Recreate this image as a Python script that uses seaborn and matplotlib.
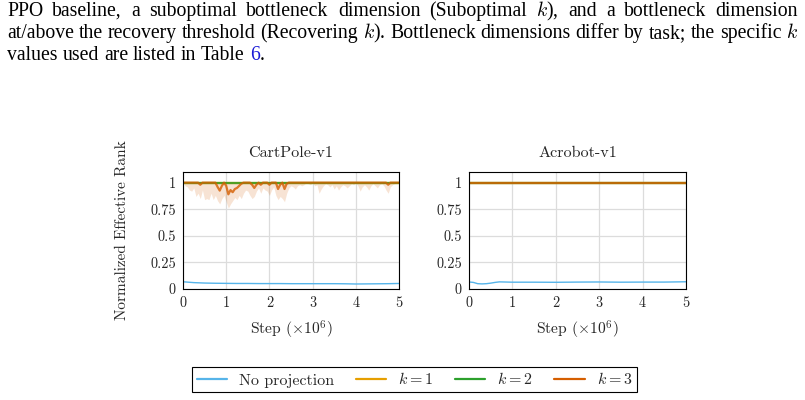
import numpy as np
import pandas as pd
import matplotlib
matplotlib.use('Agg')
import matplotlib.pyplot as plt
from matplotlib.lines import Line2D
import seaborn as sns

# ---- data ----
# CartPole, k = 3 (fine grid, 0.05 steps in units of 1e6)
cp_fine_steps = np.linspace(0, 5, 101)
cp_k3_mean = [
    1, 1, 1, 1, 1, 1, 1, 1, 0.98, 1,
    1, 1, 1, 1, 1, 1, 0.96, 0.925, 0.97, 1,
    0.97, 0.89, 0.93, 0.91, 0.94, 0.95, 0.97, 0.99, 1, 1,
    1, 1, 0.98, 0.95, 0.98, 1, 0.98, 1, 1, 1,
    0.98, 1, 1, 1, 0.94, 0.98, 1, 0.94, 0.99, 1,
    1, 1, 1, 1, 1, 1, 1, 1, 1, 1,
    1, 1, 1, 1, 1, 1, 1, 1, 1, 1,
    1, 1, 1, 1, 1, 1, 1, 1, 1, 1,
    1, 1, 1, 1, 1, 1, 1, 1, 1, 1,
    1, 1, 1, 1, 1, 0.98, 1, 1, 1, 1,
    1,
]
cp_k3_low = [
    1.0, 0.97, 0.96, 0.93, 0.92, 0.95, 0.87, 0.90, 0.85, 0.93,
    0.84, 0.85, 0.84, 0.90, 0.84, 0.88, 0.83, 0.80, 0.85, 0.88,
    0.82, 0.76, 0.80, 0.83, 0.86, 0.84, 0.88, 0.85, 0.90, 0.93,
    0.92, 0.88, 0.85, 0.87, 0.92, 0.95, 0.90, 0.95, 0.93, 0.92,
    0.88, 0.93, 0.96, 0.88, 0.84, 0.87, 0.85, 0.82, 0.90, 0.95,
    0.97, 0.96, 0.94, 0.97, 0.98, 0.97, 0.98, 1.0, 0.99, 0.98,
    1.0, 0.97, 0.98, 0.90, 0.94, 0.97, 0.99, 0.98, 0.96, 0.98,
    0.94, 0.97, 0.93, 0.96, 0.98, 0.97, 0.95, 0.97, 0.99, 0.98,
    1.0, 0.97, 0.92, 0.96, 0.98, 0.96, 0.93, 0.97, 0.99, 0.97,
    0.95, 0.98, 0.99, 0.97, 0.93, 0.90, 0.96, 0.98, 0.99, 0.99,
    1.0,
]

# k = 1 / k = 2 sit at full rank in both tasks
flat_steps = [0, 0.5, 1, 1.5, 2, 2.5, 3, 3.5, 4, 4.5, 5]
cp_k1 = [1, 1, 1, 1, 1, 1, 1, 1, 1, 1, 1]
cp_k2 = [1, 1, 1, 1, 1, 1, 1, 1, 1, 1, 1]
ac_k1 = [1, 1, 1, 1, 1, 1, 1, 1, 1, 1, 1]
ac_k2 = [1, 1, 1, 1, 1, 1, 1, 1, 1, 1, 1]
ac_k3 = [1, 1, 1, 1, 1, 1, 1, 1, 1, 1, 1]

# no projection
cp_blue_steps = [0, 0.25, 0.5, 0.75, 1, 1.25, 1.5, 1.75, 2, 2.25, 2.5,
                 2.75, 3, 3.25, 3.5, 3.75, 4, 4.25, 4.5, 4.75, 5]
cp_blue = [0.068, 0.060, 0.056, 0.054, 0.053, 0.052, 0.052, 0.051, 0.051, 0.051, 0.050,
           0.050, 0.050, 0.050, 0.050, 0.049, 0.047, 0.048, 0.049, 0.050, 0.052]
ac_blue_steps = [0, 0.1, 0.2, 0.3, 0.4, 0.5, 0.6, 0.7, 1.0, 1.5, 2.0,
                 2.5, 3.0, 3.5, 4.0, 4.5, 5.0]
ac_blue = [0.066, 0.062, 0.050, 0.048, 0.050, 0.055, 0.062, 0.067, 0.064, 0.064, 0.063,
           0.065, 0.066, 0.064, 0.065, 0.065, 0.068]

envs = ['CartPole-v1', 'Acrobot-v1']
series = ['No projection', '$k = 1$', '$k = 2$', '$k = 3$']
colors = {'No projection': '#56B4E9', '$k = 1$': '#E69F00',
          '$k = 2$': '#2CA02C', '$k = 3$': '#D55E00'}

page_lines = [
    "PPO baseline, a suboptimal bottleneck dimension (Suboptimal $k$), and a bottleneck dimension",
    "at/above the recovery threshold (Recovering $k$). Bottleneck dimensions differ by task; the specific $k$",
    "values used are listed in Table 6.",
]

# long table for seaborn
rows = []
def add(env, name, xs, ys):
    for x, y in zip(xs, ys):
        rows.append((env, name, x, y))
add('CartPole-v1', 'No projection', cp_blue_steps, cp_blue)
add('CartPole-v1', '$k = 1$', flat_steps, cp_k1)
add('CartPole-v1', '$k = 2$', flat_steps, cp_k2)
add('CartPole-v1', '$k = 3$', cp_fine_steps, cp_k3_mean)
add('Acrobot-v1', 'No projection', ac_blue_steps, ac_blue)
add('Acrobot-v1', '$k = 1$', flat_steps, ac_k1)
add('Acrobot-v1', '$k = 2$', flat_steps, ac_k2)
add('Acrobot-v1', '$k = 3$', flat_steps, ac_k3)
df = pd.DataFrame(rows, columns=['env', 'series', 'step', 'rank'])

sns.set_style('whitegrid', {'grid.color': '#dcdcdc', 'axes.edgecolor': 'black'})
plt.rcParams['font.family'] = ['cmr10', 'DejaVu Serif']
plt.rcParams['mathtext.fontset'] = 'cm'
plt.rcParams['axes.formatter.use_mathtext'] = True

fig = plt.figure(figsize=(8.05, 4.0), dpi=100)
ax1 = fig.add_axes([183 / 805, 111 / 400, 216 / 805, 117 / 400])
ax2 = fig.add_axes([469 / 805, 111 / 400, 217 / 805, 117 / 400])

line_alpha = {'No projection': 1.0, '$k = 1$': 1.0, '$k = 2$': 0.8, '$k = 3$': 0.8}
for ax, env in zip([ax1, ax2], envs):
    sub = df[df.env == env]
    if env == 'CartPole-v1':
        ax.fill_between(cp_fine_steps, cp_k3_low, 1.0, color='#D55E00',
                        alpha=0.17, linewidth=0)
    for s in series:
        d = sub[sub.series == s]
        sns.lineplot(data=d, x='step', y='rank', color=colors[s], ax=ax,
                     linewidth=1.0 if s == 'No projection' else 1.6,
                     alpha=line_alpha[s], estimator=None, legend=False)
    ax.set_xlim(0, 5)
    ax.set_ylim(0, 1.1)
    ax.set_xticks([0, 1, 2, 3, 4, 5])
    ax.set_xticklabels(['0', '1', '2', '3', '4', '5'])
    ax.set_yticks([0, 0.25, 0.5, 0.75, 1])
    ax.set_yticklabels(['0', '0.25', '0.5', '0.75', '1'])
    ax.tick_params(length=0, labelsize=10.3, pad=5)
    ax.grid(True, color='#dcdcdc', linewidth=0.9)
    for sp in ax.spines.values():
        sp.set_color('black')
        sp.set_linewidth(0.8)
    ax.set_title(env, fontsize=11.6, pad=11)
    ax.set_xlabel(r'Step ($\times 10^6$)', fontsize=11.2)
    ax.xaxis.set_label_coords(0.5, -0.25)
    ax.set_ylabel('')

ax1.set_ylabel('Normalized Effective Rank', fontsize=11)
ax1.yaxis.set_label_coords(-0.25, 0.5)

handles = [Line2D([], [], color=colors[s], linewidth=1.6) for s in series]
leg = fig.legend(handles, series, loc='center', ncol=4,
                 bbox_to_anchor=(414.5 / 805, 1 - 379.5 / 400),
                 frameon=True, fancybox=False, edgecolor='black', framealpha=1,
                 fontsize=11.5, handlelength=1.9, columnspacing=1.35,
                 borderpad=0.3, handletextpad=0.75)
leg.get_frame().set_linewidth(0.8)

# caption text above the plots, justified like the page
renderer = fig.canvas.get_renderer()

def make_words(text, size):
    pieces = []
    for w in text.split(' '):
        parts = [('6', '#1a1ad6'), ('.', 'black')] if w == '6.' else [(w, 'black')]
        objs = [fig.text(0, 0, p, fontsize=size, family='Liberation Serif',
                         color=c, va='baseline', ha='left') for p, c in parts]
        pieces.append(objs)
    return pieces

def word_widths(pieces):
    return [[o.get_window_extent(renderer).width for o in objs] for objs in pieces]

# pick a size so the tightest line (the second) fits with plain spacing
probe = make_words(page_lines[1], 12)
w12 = sum(sum(w) for w in word_widths(probe))
for objs in probe:
    for o in objs:
        o.remove()
n_gaps = len(page_lines[1].split(' ')) - 1
body_size = 12 * 791 / (w12 + n_gaps * 0.24 * 12 / 72 * 100)
space = 0.25 * body_size / 72 * 100

def put_line(text, ybase, justify):
    pieces = make_words(text, body_size)
    widths = word_widths(pieces)
    total = sum(sum(w) for w in widths)
    gap = (798 - 7 - total) / (len(pieces) - 1) if justify else space
    x = 7
    for objs, ws in zip(pieces, widths):
        for o, w in zip(objs, ws):
            o.set_position((x / 805, 1 - ybase / 400))
            x += w
        x += gap

put_line(page_lines[0], 16, True)
put_line(page_lines[1], 38, True)
put_line(page_lines[2], 59.5, False)

fig.savefig('out.png', dpi=100)
